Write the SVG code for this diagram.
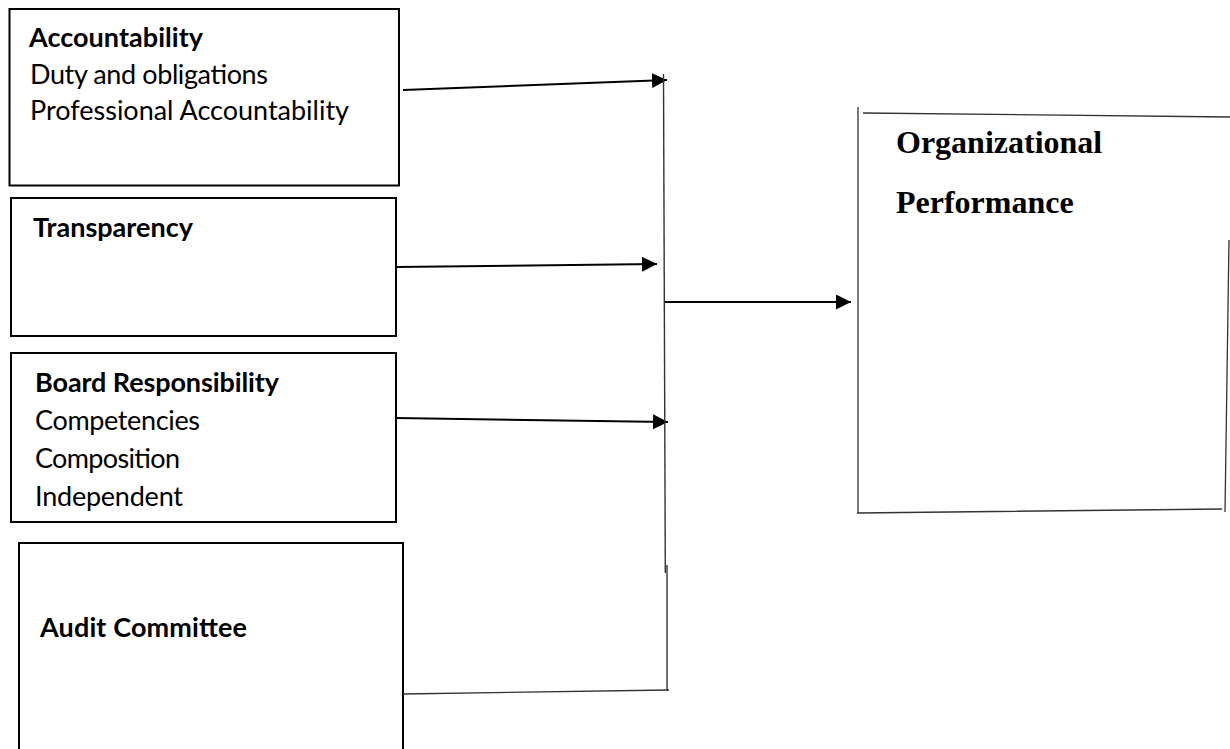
<svg xmlns="http://www.w3.org/2000/svg" width="1230" height="749" viewBox="0 0 1230 749">
  <style>
    .box { fill: #fff; stroke: #000; stroke-width: 2; }
    .obox { fill: none; stroke: #333; stroke-width: 1.3; }
    .lbl { font-family: Lato, "Liberation Sans", sans-serif; font-size: 27px; fill: #000; }
    .b { font-weight: bold; }
    .org { font-family: "Liberation Serif", "Times New Roman", serif; font-weight: bold; font-size: 32px; fill: #000; }
    .conn { fill: none; stroke: #000; stroke-width: 2; }
    .thin { fill: none; stroke: #333; stroke-width: 1.4; }
  </style>
  <defs>
    <marker id="arrow" markerUnits="userSpaceOnUse" markerWidth="16" markerHeight="16" refX="15" refY="7.5" orient="auto">
      <path d="M0,0 L15,7.5 L0,15 Z" fill="#000"/>
    </marker>
  </defs>
  <rect width="1230" height="749" fill="#fff"/>

  <g id="accountability">
    <rect class="box" x="9.5" y="9" width="389.5" height="176.5"/>
    <text class="lbl b" x="29" y="47" textLength="174">Accountability</text>
    <text class="lbl" x="30" y="83.5" textLength="238">Duty and obligations</text>
    <text class="lbl" x="30" y="120" textLength="319">Professional Accountability</text>
  </g>

  <g id="transparency">
    <rect class="box" x="11" y="198" width="385" height="138"/>
    <text class="lbl b" x="33" y="237" textLength="160">Transparency</text>
  </g>

  <g id="board">
    <rect class="box" x="11" y="353" width="385" height="169"/>
    <text class="lbl b" x="35" y="392" textLength="244">Board Responsibility</text>
    <text class="lbl" x="35" y="430" textLength="165">Competencies</text>
    <text class="lbl" x="35" y="468" textLength="145">Composition</text>
    <text class="lbl" x="35" y="506" textLength="148">Independent</text>
  </g>

  <g id="audit">
    <rect class="box" x="19" y="543" width="384" height="220"/>
    <text class="lbl b" x="40" y="637" textLength="207">Audit Committee</text>
  </g>

  <g id="performance">
    <path class="obox" d="M858,107 L858,513 M863,113 L1230,117 M1229,240 L1225,512 M857,513 L1222,509"/>
    <text class="org" x="896" y="153">Organizational</text>
    <text class="org" x="896" y="213">Performance</text>
  </g>

  <g id="connectors">
    <line class="conn" x1="403" y1="90" x2="667" y2="80" marker-end="url(#arrow)"/>
    <line class="conn" x1="396" y1="267" x2="657" y2="264" marker-end="url(#arrow)"/>
    <line class="conn" x1="396" y1="418" x2="668" y2="422" marker-end="url(#arrow)"/>
    <path class="thin" d="M663.5,74 L665.3,573"/>
    <path class="thin" d="M667,565 L667,691"/>
    <path class="thin" d="M403,694 L669,690"/>
    <line class="conn" x1="665" y1="302" x2="851" y2="302" marker-end="url(#arrow)"/>
  </g>
</svg>
